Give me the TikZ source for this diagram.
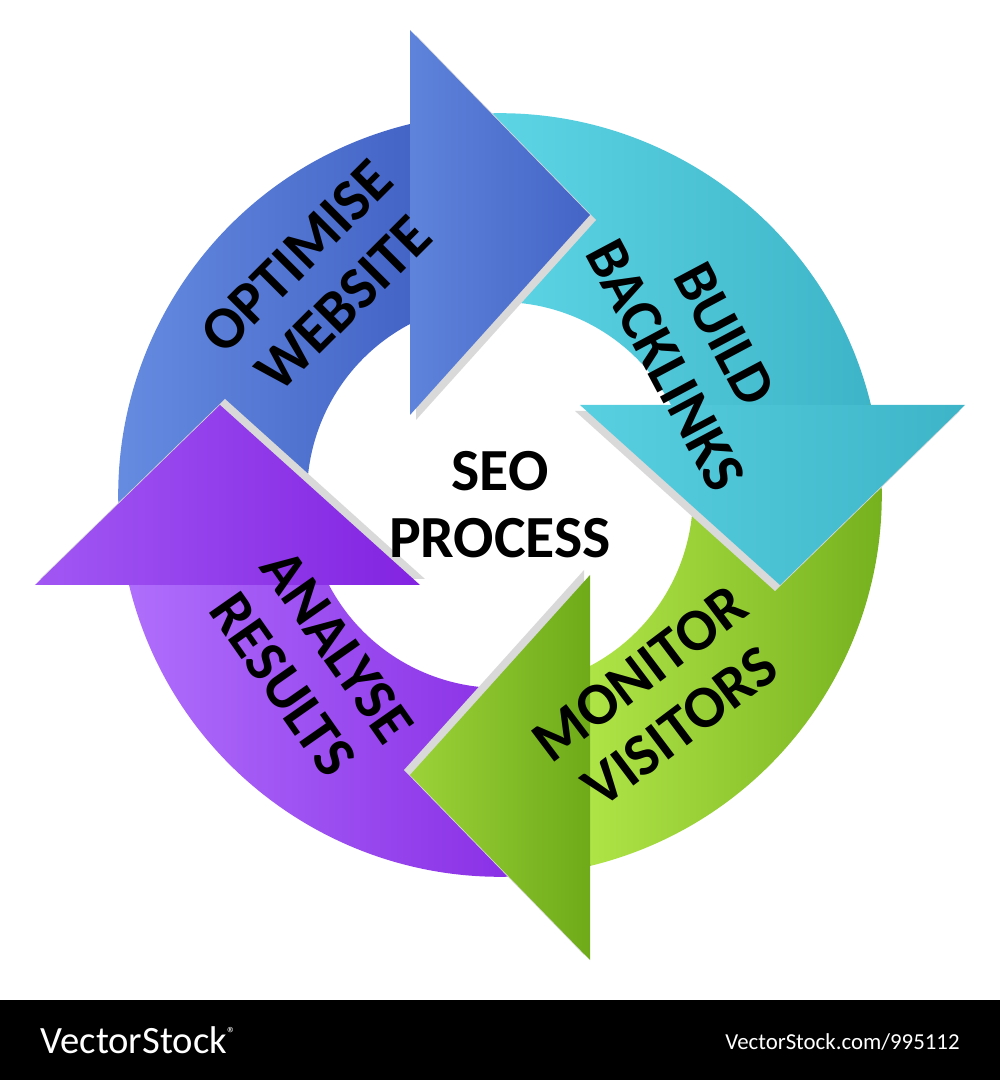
\documentclass[tikz,border=0pt]{standalone}
\usepackage{fontspec}
\setmainfont{Carlito}
\usetikzlibrary{positioning}
\definecolor{blue1}{RGB}{105,145,228}
\definecolor{blue2}{RGB}{68,100,198}
\definecolor{cyan1}{RGB}{100,220,235}
\definecolor{cyan2}{RGB}{62,180,200}
\definecolor{green1}{RGB}{175,228,70}
\definecolor{green2}{RGB}{110,170,25}
\definecolor{purple1}{RGB}{175,110,252}
\definecolor{purple2}{RGB}{130,35,225}

\begin{document}
\begin{tikzpicture}[
    ringbody/.style={draw=none},
    ringlabel/.style={font=\fontsize{17}{19}\selectfont\bfseries, align=center, text=black}
]
    \useasboundingbox (-5,-5.85) rectangle (5,4.95);

    % Bodies (one quarter each, rotated)
    \foreach \rot/\ca/\cb in {0/blue1/blue2, -90/cyan1/cyan2, -180/green1/green2, 90/purple1/purple2} {
        \path[ringbody, rotate=\rot, shading angle=\rot-60, left color=\ca, right color=\cb]
            (-3.71,-0.9) arc[start angle=193.6, end angle=103.6, radius=3.82]
            -- (-0.9,1.71) arc[start angle=117.8, end angle=207.8, radius=1.93] -- cycle;
    }
    % Heads
    \foreach \rot/\ca/\cb in {0/blue1/blue2, -90/cyan1/cyan2, -180/green1/green2, 90/purple1/purple2} {
        \path[rotate=\rot, fill=black!15] (-0.84,4.6) -- (0.96,2.75) -- (-0.84,0.75) -- cycle;
        \path[ringbody, rotate=\rot, shading angle=\rot-60, left color=\ca!70!\cb, right color=\cb]
            (-0.9,4.65) -- (0.9,2.8) -- (-0.9,0.8) -- cycle;
    }

    % Labels
    \node[ringlabel, rotate=45] (optimise) at (-1.8,2.15) {OPTIMISE\\WEBSITE};
    \node[ringlabel, rotate=-62] (backlinks) at (1.95,1.45) {BUILD\\BACKLINKS};
    \node[ringlabel, rotate=37] (monitor) at (1.6,-2.05) {MONITOR\\VISITORS};
    \node[ringlabel, rotate=-55] (analyse) at (-1.9,-1.7) {ANALYSE\\RESULTS};
    \node[ringlabel] (seo) at (0,-0.1) {SEO\\PROCESS};

    % Footer
    \fill[black] (-5,-5.05) rectangle (5,-5.85);
    \node[text=white, font=\fontsize{11}{11}\selectfont, anchor=west] (brand) at (-4.72,-5.45) {VectorStock\textsuperscript{\tiny\textregistered}};
    \node[text=white, font=\fontsize{6.5}{7}\selectfont, anchor=east] (imgid) at (4.72,-5.47) {VectorStock.com/995112};
\end{tikzpicture}
\end{document}
